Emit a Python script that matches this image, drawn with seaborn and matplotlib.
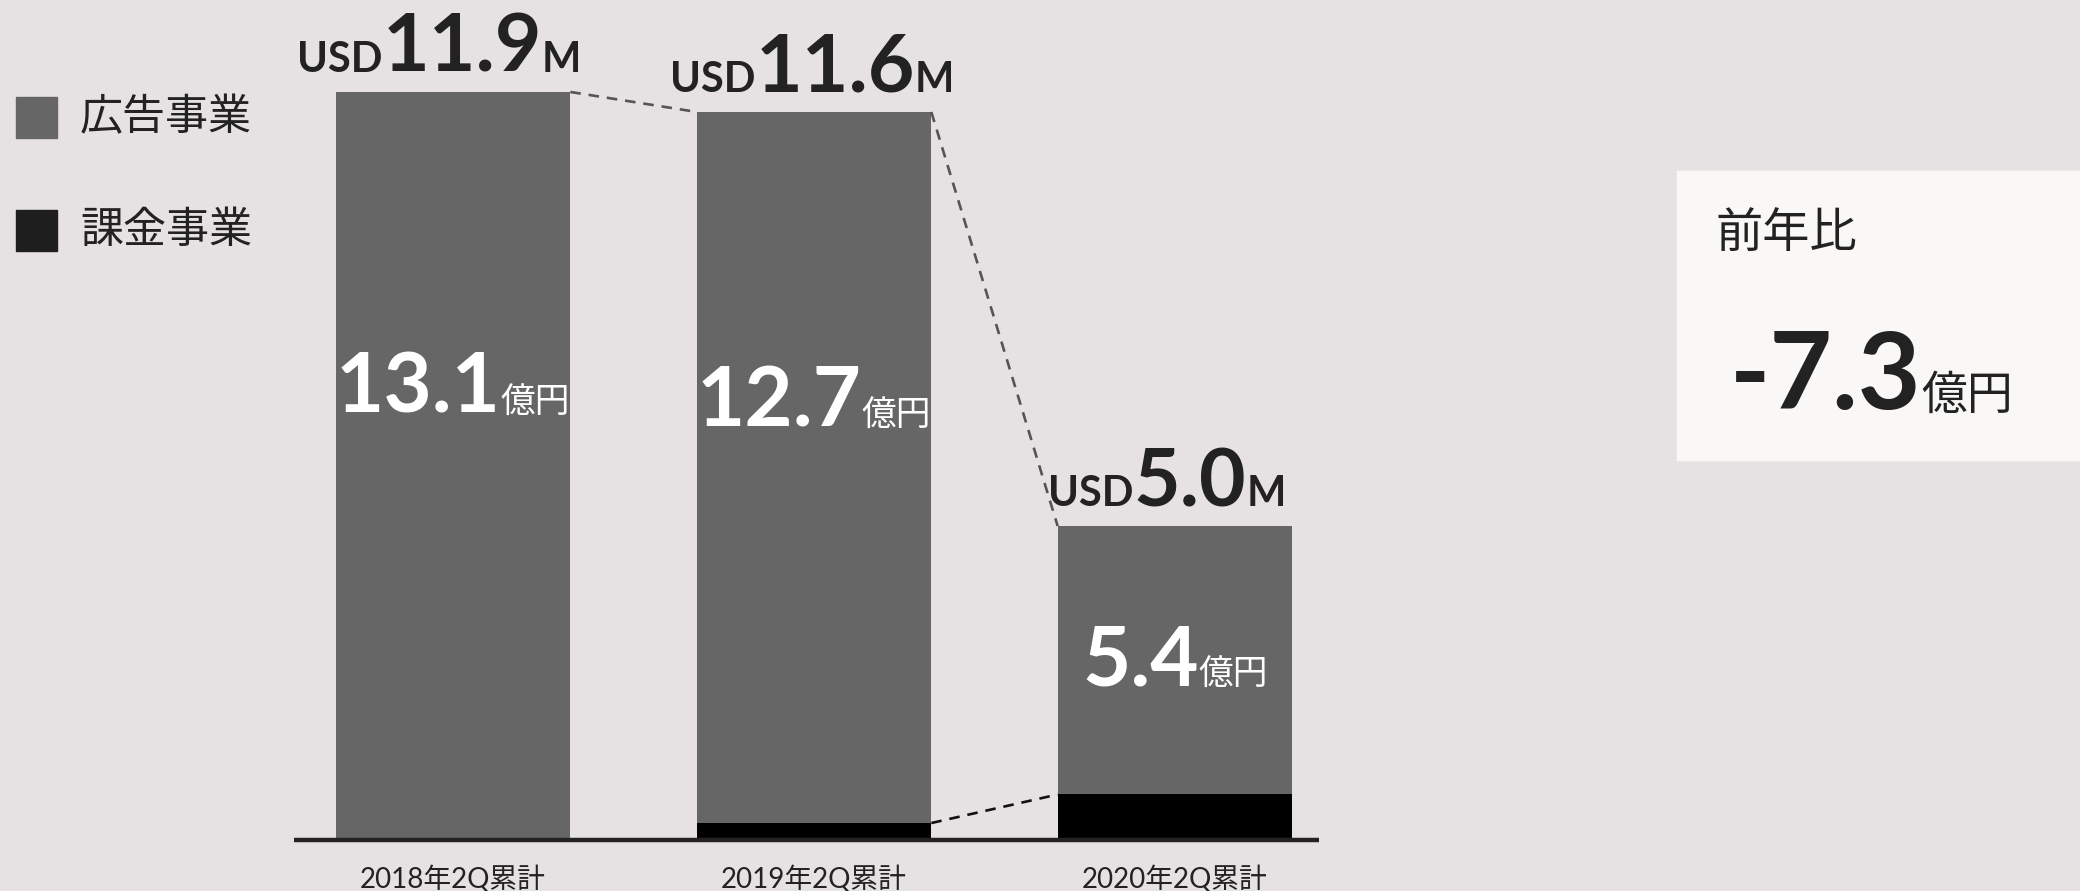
import matplotlib
matplotlib.use('Agg')
import matplotlib.pyplot as plt
from matplotlib.patches import Rectangle
from matplotlib.transforms import offset_copy
import seaborn as sns

# data
periods = ['2018年2Q累計', '2019年2Q累計', '2020年2Q累計']
ad_sales = [13.1, 12.45, 4.7]         # 広告事業 (億円)
billing_sales = [0.0, 0.3, 0.8]       # 課金事業 (億円)
jpy_labels = ['13.1', '12.7', '5.4']
usd_labels = ['11.9', '11.6', '5.0']
yoy_value = '-7.3'
legend_labels = ['広告事業', '課金事業']

totals = [a + b for a, b in zip(ad_sales, billing_sales)]

BG = '#e6e2e3'
AD = '#666666'
BILL = '#000000'
INK = '#222222'
LATIN = ['Lato', 'Noto Sans CJK JP', 'DejaVu Sans']
CJK = ['Noto Sans CJK JP', 'DejaVu Sans']

sns.set_theme(style='white')
plt.rcParams['font.family'] = LATIN

W, H = 2080, 891
fig = plt.figure(figsize=(W / 100, H / 100), dpi=100, facecolor=BG)
ax = fig.add_axes([0, 0, 1, 1])
ax.set_facecolor(BG)

bw = 0.65
sns.barplot(x=periods, y=totals, color=AD, width=bw, saturation=1, ax=ax,
            linewidth=0, edgecolor='none', zorder=2)
sns.barplot(x=periods, y=billing_sales, color=BILL, width=bw, saturation=1, ax=ax,
            linewidth=0, edgecolor='none', zorder=3)

ax.set_xlim(-1.2548, 4.507)
ax.set_ylim(-0.89, 14.71)
ax.axis('off')

# baseline
ax.plot([-0.44, 2.40], [0, 0], color=INK, lw=3.2, solid_capstyle='butt', zorder=5)

# connectors between bar tops
for i in range(len(totals) - 1):
    ax.plot([i + bw / 2, i + 1 - bw / 2], [totals[i], totals[i + 1]],
            color='#555555', lw=1.9, dashes=(4, 3), zorder=4)
ax.plot([1 + bw / 2, 2 - bw / 2], [billing_sales[1], billing_sales[2]],
        color='#111111', lw=1.9, dashes=(4, 3), zorder=4)

renderer = fig.canvas.get_renderer()


def rich_text(x, y, parts, transform, ha='center', dx=0):
    texts, widths = [], []
    for s, kw in parts:
        t = ax.text(x, y, s, va='baseline', ha='left', transform=transform, zorder=6, **kw)
        texts.append(t)
        widths.append(t.get_window_extent(renderer).width)
    off = (-sum(widths) / 2 if ha == 'center' else 0) + dx
    for t, w in zip(texts, widths):
        t.set_transform(offset_copy(transform, fig=fig, x=off, y=0, units='dots'))
        off += w


# USD labels above bars
usd_shift = [-14, -2, -8]
for i, (tot, usd) in enumerate(zip(totals, usd_labels)):
    rich_text(i, tot + 0.35, [
        ('USD', dict(fontsize=30, fontweight='bold', color=INK, family=LATIN)),
        (usd, dict(fontsize=58, fontweight='bold', color=INK, family=LATIN)),
        ('M', dict(fontsize=30, fontweight='bold', color=INK, family=LATIN)),
    ], ax.transData, dx=usd_shift[i])

# JPY labels inside bars
label_y = [7.48, 7.25, 2.71]
for i, (ly, jpy) in enumerate(zip(label_y, jpy_labels)):
    rich_text(i, ly, [
        (jpy, dict(fontsize=60, fontweight='bold', color='white', family=LATIN)),
        ('億円', dict(fontsize=25, color='white', family=CJK)),
    ], ax.transData)

# category labels
for i, p in enumerate(periods):
    ax.text(i, -0.683, p, ha='center', va='center', fontsize=20, color=INK, family=LATIN)

# legend
for k, (lab, col) in enumerate(zip(legend_labels, [AD, '#1e1e1e'])):
    top = 97 + k * 113
    ax.add_patch(Rectangle((16 / W, 1 - (top + 41) / H), 41 / W, 41 / H,
                           transform=ax.transAxes, color=col, zorder=6))
    ax.text(80 / W, 1 - (top + 21) / H, lab, transform=ax.transAxes, ha='left', va='center',
            fontsize=31, color=INK, family=CJK)

# year-over-year box
ax.add_patch(Rectangle((1677 / W, 1 - 460 / H), (W - 1677) / W, 289 / H,
                       transform=ax.transAxes, color='#f9f8f6', zorder=1))
ax.text(1716 / W, 1 - 234 / H, '前年比', transform=ax.transAxes, ha='left', va='center',
        fontsize=34, color=INK, family=CJK, zorder=6)
rich_text(1730 / W, 1 - 409 / H, [
    (yoy_value, dict(fontsize=78, fontweight='bold', color=INK, family=LATIN)),
    ('億円', dict(fontsize=33, color=INK, family=CJK)),
], ax.transAxes, ha='left')

fig.savefig('out.png', dpi=100, facecolor=BG)
